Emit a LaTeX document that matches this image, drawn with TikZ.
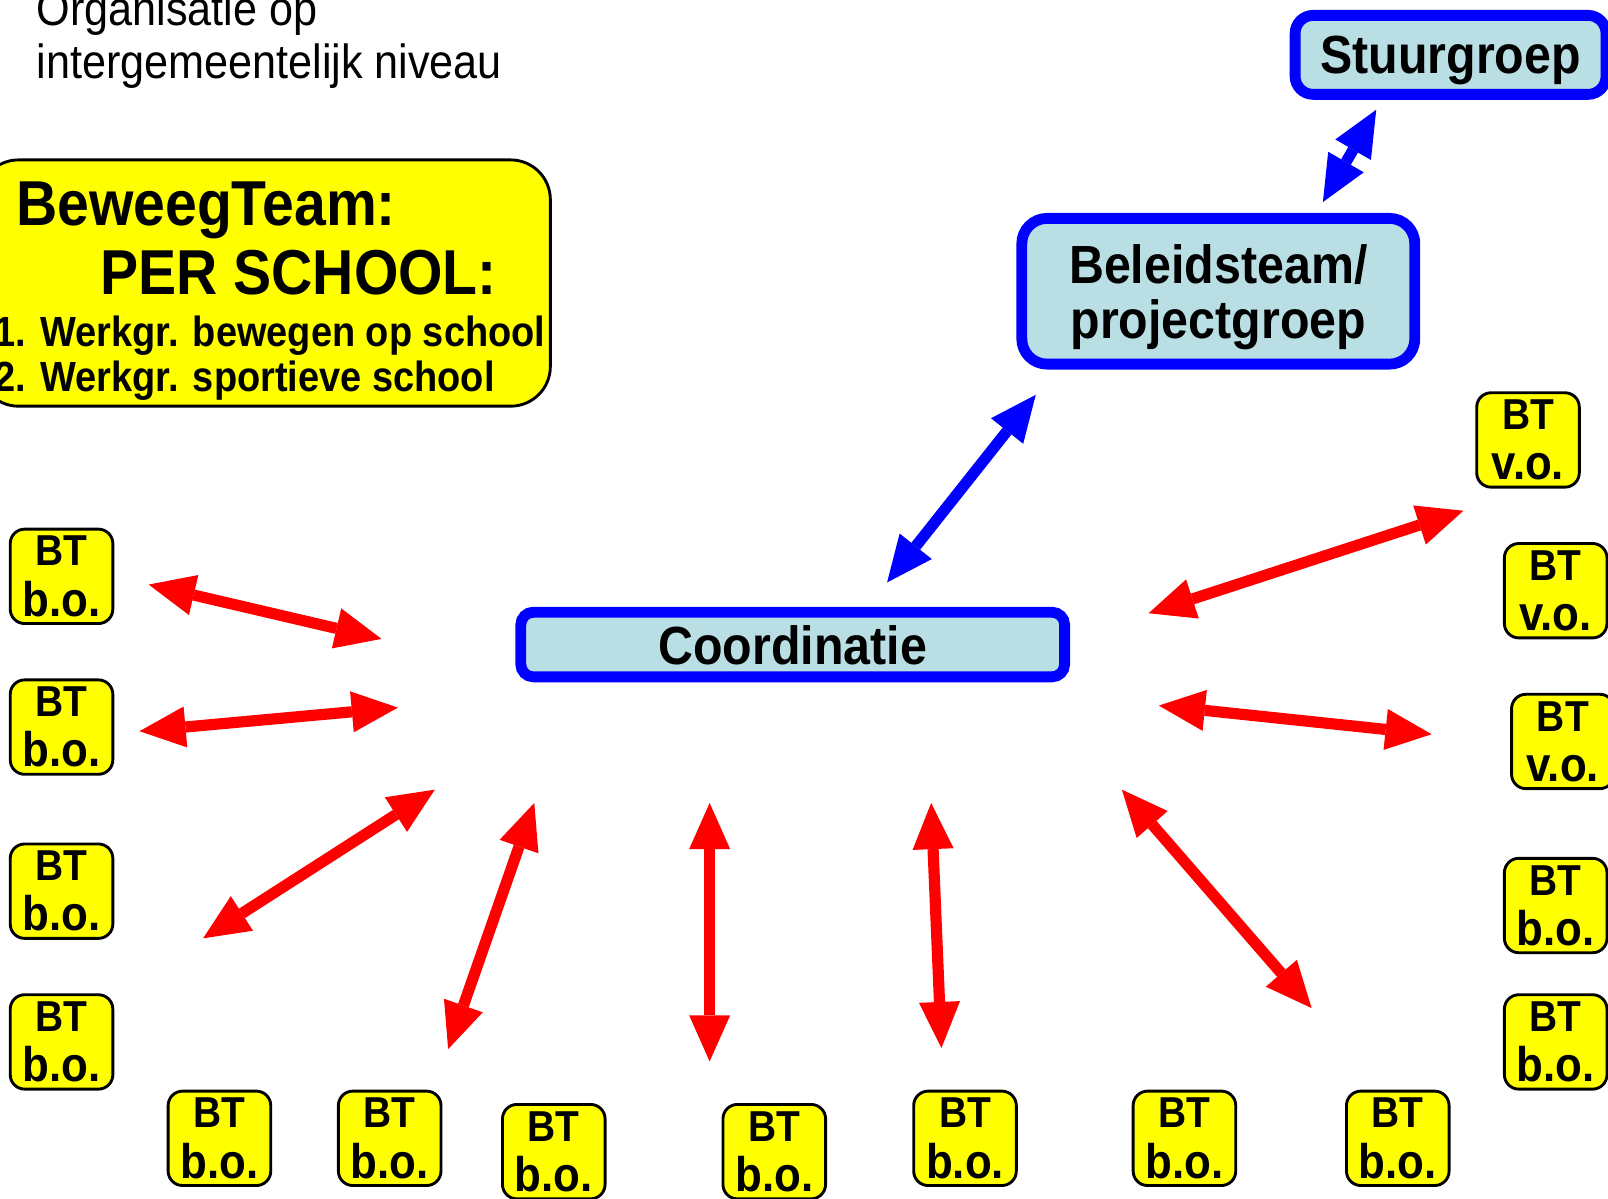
\documentclass[tikz,border=0pt]{standalone}
\usepackage{fontspec}
\setmainfont{Liberation Sans}[FakeStretch=0.9]
\usetikzlibrary{arrows.meta}
\definecolor{btgeel}{RGB}{255,255,0}
\definecolor{lichtblauw}{RGB}{185,223,229}
\newcommand{\btbo}{{\fontsize{12}{13.9}\selectfont BT}\\b.o.}
\newcommand{\btvo}{{\fontsize{12}{13.9}\selectfont BT}\\v.o.}
\tikzset{
	btbox/.style={draw=black,line width=0.8pt,fill=btgeel,rounded corners=4pt,minimum width=1cm,minimum height=0.92cm,inner sep=0pt,align=center,font=\fontsize{13.5}{13.9}\selectfont\bfseries},
	blauwbox/.style={draw=blue,line width=3pt,fill=lichtblauw,inner sep=0pt,text depth=0pt,align=center,font=\fontsize{14.9}{15.2}\selectfont\bfseries},
	rodepijl/.style={draw=red,line width=3.1pt,<->},
	blauwepijl/.style={draw=blue,line width=3.1pt,<->}
}
\begin{document}
\begin{tikzpicture}[x=0.01cm,y=-0.01cm,>={Triangle[length=12.8pt,width=11.4pt,line width=0pt]}]
					\useasboundingbox (0,0) rectangle (1568,1169);
					\path (35,25) node[anchor=base west,inner sep=0pt,font=\fontsize{13.3}{14.7}\selectfont] (titel1) {Organisatie op};
					\path (35,77) node[anchor=base west,inner sep=0pt,font=\fontsize{13.3}{14.7}\selectfont] (titel2) {intergemeentelijk niveau};
					\path (258,276) node[draw=black,line width=0.8pt,fill=btgeel,rounded corners=11pt,minimum width=5.57cm,minimum height=2.4cm] (beweeg) {};
					\path (15,220) node[anchor=base west,inner sep=0pt,font=\fontsize{17.6}{18}\selectfont\bfseries] (bw1) {BeweegTeam:};
					\path (97,287) node[anchor=base west,inner sep=0pt,font=\fontsize{17.6}{18}\selectfont\bfseries] (bw2) {PER SCHOOL:};
					\path (-6,338) node[anchor=base west,inner sep=0pt,font=\fontsize{11.7}{12}\selectfont\bfseries] (bw3) {1. Werkgr. bewegen op school};
					\path (-6,382) node[anchor=base west,inner sep=0pt,font=\fontsize{11.7}{12}\selectfont\bfseries] (bw4) {2. Werkgr. sportieve school};
					\path (1414.5,53.5) node[blauwbox,rounded corners=5pt,minimum width=3.03cm,minimum height=0.77cm] (stuur) {Stuurgroep};
					\path (1188,284) node[blauwbox,rounded corners=7pt,minimum width=3.83cm,minimum height=1.42cm] (beleid) {Beleidsteam/\\projectgroep};
					\path (773,628.5) node[blauwbox,rounded corners=3.5pt,minimum width=5.3cm,minimum height=0.63cm] (coord) {Coordinatie};
					\path (60,562) node[btbox] (btL1) {\btbo};
					\path (60,709) node[btbox] (btL2) {\btbo};
					\path (60,869) node[btbox] (btL3) {\btbo};
					\path (60,1016) node[btbox] (btL4) {\btbo};
					\path (214,1110) node[btbox] (btB1) {\btbo};
					\path (380,1110) node[btbox] (btB2) {\btbo};
					\path (540,1123) node[btbox] (btB3) {\btbo};
					\path (755,1123) node[btbox] (btB4) {\btbo};
					\path (941,1110) node[btbox] (btB5) {\btbo};
					\path (1155,1110) node[btbox] (btB6) {\btbo};
					\path (1363,1110) node[btbox] (btB7) {\btbo};
					\path (1490,429) node[btbox] (btR1) {\btvo};
					\path (1517,576) node[btbox] (btR2) {\btvo};
					\path (1524,723) node[btbox] (btR3) {\btvo};
					\path (1517,883) node[btbox] (btR4) {\btbo};
					\path (1517,1016) node[btbox] (btR5) {\btbo};
					\path (145,570) coordinate (p1a);
					\path (372,623) coordinate (p1b);
					\path (136,713) coordinate (p2a);
					\path (388,690) coordinate (p2b);
					\path (198,915) coordinate (p3a);
					\path (424,770) coordinate (p3b);
					\path (437,1023) coordinate (p4a);
					\path (521,783) coordinate (p4b);
					\path (692,1035) coordinate (p5a);
					\path (692,783) coordinate (p5b);
					\path (918,1022) coordinate (p6a);
					\path (908,783) coordinate (p6b);
					\path (1279,983) coordinate (p7a);
					\path (1094,770) coordinate (p7b);
					\path (1396,716) coordinate (p8a);
					\path (1130,688) coordinate (p8b);
					\path (1427,498) coordinate (p9a);
					\path (1120,598) coordinate (p9b);
					\path (865,568) coordinate (q1a);
					\path (1010,385) coordinate (q1b);
					\path (1290,197) coordinate (q2a);
					\path (1342,107) coordinate (q2b);
					\draw[rodepijl] (p1a) -- (p1b);
					\draw[rodepijl] (p2a) -- (p2b);
					\draw[rodepijl] (p3a) -- (p3b);
					\draw[rodepijl] (p4a) -- (p4b);
					\draw[rodepijl] (p5a) -- (p5b);
					\draw[rodepijl] (p6a) -- (p6b);
					\draw[rodepijl] (p7a) -- (p7b);
					\draw[rodepijl] (p8a) -- (p8b);
					\draw[rodepijl] (p9a) -- (p9b);
					\draw[blauwepijl] (q1a) -- (q1b);
					\draw[blauwepijl] (q2a) -- (q2b);
\end{tikzpicture}
\end{document}
